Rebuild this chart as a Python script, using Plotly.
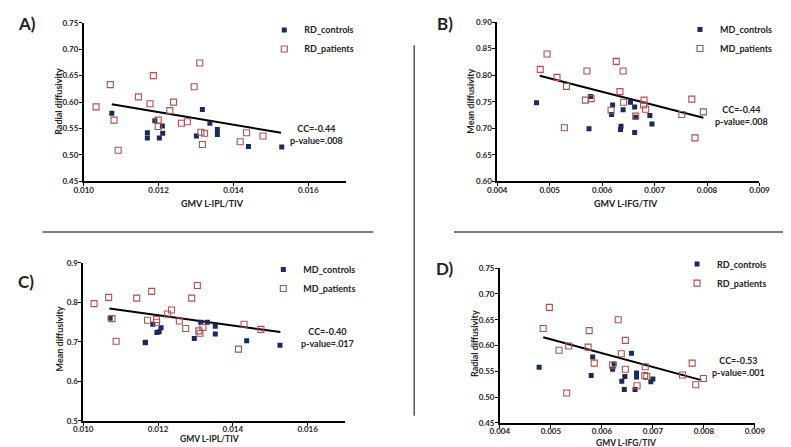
import plotly.graph_objects as go

W, H = 791, 447

# ---------------- data ----------------
# Panel A: RD vs GMV L-IPL/TIV
a_ctrl_x = [0.01075, 0.0117, 0.0117, 0.0119, 0.01202, 0.0121, 0.01211, 0.01301, 0.01317, 0.01337, 0.01357, 0.01357, 0.0144, 0.01529]
a_ctrl_y = [0.579, 0.542, 0.532, 0.565, 0.532, 0.555, 0.541, 0.536, 0.586, 0.560, 0.548, 0.539, 0.516, 0.515]
a_pat_x = [0.01033, 0.01071, 0.01081, 0.01092, 0.01146, 0.01177, 0.01186, 0.01199, 0.01199, 0.0123, 0.0124,
           0.01261, 0.01277, 0.01295, 0.0131, 0.01313, 0.01317, 0.01323, 0.01418, 0.01435, 0.01479]
a_pat_y = [0.591, 0.633, 0.566, 0.509, 0.610, 0.597, 0.650, 0.566, 0.554, 0.584, 0.600,
           0.560, 0.563, 0.629, 0.674, 0.543, 0.520, 0.541, 0.525, 0.542, 0.536]
a_fit_x = [0.01075, 0.01527]
a_fit_y = [0.596, 0.542]

# Panel B: MD vs GMV L-IFG/TIV
b_ctrl_x = [0.00475, 0.00575, 0.00578, 0.00618, 0.00620, 0.00636, 0.00635, 0.0064, 0.00654, 0.00662, 0.00662, 0.00664, 0.00691, 0.00695]
b_ctrl_y = [0.748, 0.699, 0.760, 0.726, 0.744, 0.704, 0.698, 0.735, 0.749, 0.740, 0.692, 0.721, 0.724, 0.708]
b_pat_x = [0.00482, 0.00495, 0.00514, 0.00532, 0.00528, 0.00568, 0.00571, 0.00579, 0.00617, 0.00627, 0.00634,
           0.0064, 0.00641, 0.00664, 0.0068, 0.00679, 0.00683, 0.00752, 0.00771, 0.00777, 0.00793]
b_pat_y = [0.811, 0.840, 0.796, 0.779, 0.701, 0.753, 0.808, 0.756, 0.734, 0.826, 0.769,
           0.808, 0.749, 0.723, 0.753, 0.744, 0.736, 0.726, 0.755, 0.682, 0.731]
b_fit_x = [0.00481, 0.00793]
b_fit_y = [0.799, 0.720]

# Panel C: MD vs GMV L-IPL/TIV
c_ctrl_x = [0.01072, 0.01166, 0.01166, 0.01186, 0.01197, 0.01203, 0.01208, 0.01297, 0.01314, 0.01332, 0.01353, 0.01353, 0.01437, 0.01526]
c_ctrl_y = [0.760, 0.698, 0.699, 0.745, 0.724, 0.726, 0.736, 0.709, 0.750, 0.750, 0.740, 0.720, 0.703, 0.692]
c_pat_x = [0.01029, 0.01068, 0.01077, 0.01088, 0.01143, 0.01172, 0.01183, 0.01196, 0.01196, 0.01225, 0.01236,
           0.01257, 0.01274, 0.0129, 0.01305, 0.01309, 0.01312, 0.0132, 0.01415, 0.0143, 0.01475]
c_pat_y = [0.797, 0.813, 0.759, 0.702, 0.811, 0.755, 0.828, 0.757, 0.750, 0.771, 0.781,
           0.753, 0.734, 0.811, 0.843, 0.728, 0.722, 0.737, 0.682, 0.745, 0.732]
c_fit_x = [0.0107, 0.01527]
c_fit_y = [0.785, 0.725]

# Panel D: RD vs GMV L-IFG/TIV
d_ctrl_x = [0.00477, 0.00579, 0.00582, 0.00621, 0.00624, 0.00639, 0.00644, 0.00645, 0.00658, 0.00668, 0.00668, 0.00665, 0.00696, 0.0070]
d_ctrl_y = [0.558, 0.542, 0.578, 0.554, 0.564, 0.531, 0.515, 0.540, 0.585, 0.547, 0.539, 0.515, 0.530, 0.535]
d_pat_x = [0.00485, 0.00497, 0.00516, 0.00535, 0.00531, 0.00573, 0.00575, 0.00585, 0.00621, 0.00632, 0.00638,
           0.00646, 0.00646, 0.00669, 0.00685, 0.00684, 0.00688, 0.00758, 0.00777, 0.00784, 0.00799]
d_pat_y = [0.633, 0.674, 0.591, 0.599, 0.508, 0.597, 0.629, 0.566, 0.562, 0.650, 0.584,
           0.610, 0.554, 0.522, 0.559, 0.542, 0.540, 0.543, 0.566, 0.524, 0.536]
d_fit_x = [0.00485, 0.00795]
d_fit_y = [0.616, 0.533]

ipl_ticks = [0.010, 0.012, 0.014, 0.016]
ipl_ticktext = ["0.010", "0.012", "0.014", "0.016"]
ifg_ticks = [0.004, 0.005, 0.006, 0.007, 0.008, 0.009]
ifg_ticktext = ["0.004", "0.005", "0.006", "0.007", "0.008", "0.009"]
rd_ticks = [0.45, 0.50, 0.55, 0.60, 0.65, 0.70, 0.75]
rd_ticktext = ["0.45", "0.50", "0.55", "0.60", "0.65", "0.70", "0.75"]
mdb_ticks = [0.60, 0.65, 0.70, 0.75, 0.80, 0.85, 0.90]
mdb_ticktext = ["0.60", "0.65", "0.70", "0.75", "0.80", "0.85", "0.90"]
mdc_ticks = [0.5, 0.6, 0.7, 0.8, 0.9]
mdc_ticktext = ["0.5", "0.6", "0.7", "0.8", "0.9"]

# ---------------- styling ----------------
FONT = "Lato"
NAVY = "#1b2a5c"
RED = "#b0514f"
TXT = "#222222"

def px_x(p):
    return p / W

def px_y(p):
    return 1 - p / H

fig = go.Figure()

panels = [
    ("A", "", a_ctrl_x, a_ctrl_y, a_pat_x, a_pat_y, a_fit_x, a_fit_y, "legend", "RD_controls", "RD_patients"),
    ("B", "2", b_ctrl_x, b_ctrl_y, b_pat_x, b_pat_y, b_fit_x, b_fit_y, "legend2", "MD_controls", "MD_patients"),
    ("C", "3", c_ctrl_x, c_ctrl_y, c_pat_x, c_pat_y, c_fit_x, c_fit_y, "legend3", "MD_controls", "MD_patients"),
    ("D", "4", d_ctrl_x, d_ctrl_y, d_pat_x, d_pat_y, d_fit_x, d_fit_y, "legend4", "RD_controls", "RD_patients"),
]

for name, s, cx, cy, px_, py_, fx, fy, leg, lc, lp in panels:
    xa = "x" + s
    ya = "y" + s
    fig.add_trace(go.Scatter(x=fx, y=fy, mode="lines", line=dict(color="black", width=2),
                             xaxis=xa, yaxis=ya, showlegend=False, hoverinfo="skip"))
    fig.add_trace(go.Scatter(x=cx, y=cy, mode="markers", name=lc, legend=leg,
                             marker=dict(symbol="square", size=5, color=NAVY),
                             xaxis=xa, yaxis=ya))
    fig.add_trace(go.Scatter(x=px_, y=py_, mode="markers", name=lp, legend=leg,
                             marker=dict(symbol="square-open", size=6, color=RED,
                                         line=dict(width=1.1, color=RED)),
                             xaxis=xa, yaxis=ya))

axis_common = dict(showline=True, linecolor="black", linewidth=1.6, ticks="outside",
                   ticklen=3, tickwidth=1.3, tickcolor="black", showgrid=False, zeroline=False,
                   tickfont=dict(family=FONT, size=8, color=TXT, weight="bold"))
xcommon = dict(ticklabelstandoff=-3, **axis_common)
ycommon = dict(ticklabelstandoff=-1, **axis_common)

domA_x = [px_x(67.5), px_x(336.7)]
domA_y = [px_y(172.3), px_y(10)]
domB_x = [px_x(492.3), px_x(761.7)]
domB_y = [px_y(172.3), px_y(9.3)]
domC_x = [px_x(67), px_x(336)]
domC_y = [px_y(417.3), px_y(255.7)]
domD_x = [px_x(495), px_x(757)]
domD_y = [px_y(419.3), px_y(261)]

fig.update_layout(
    xaxis=dict(domain=domA_x, range=[0.010, 0.017], tickvals=ipl_ticks, ticktext=ipl_ticktext, anchor="y", **xcommon),
    yaxis=dict(domain=domA_y, range=[0.45, 0.75], tickvals=rd_ticks, ticktext=rd_ticktext, anchor="x", **ycommon),
    xaxis2=dict(domain=domB_x, range=[0.004, 0.009], tickvals=ifg_ticks, ticktext=ifg_ticktext, anchor="y2", **xcommon),
    yaxis2=dict(domain=domB_y, range=[0.60, 0.90], tickvals=mdb_ticks, ticktext=mdb_ticktext, anchor="x2", **ycommon),
    xaxis3=dict(domain=domC_x, range=[0.010, 0.017], tickvals=ipl_ticks, ticktext=ipl_ticktext, anchor="y3", **xcommon),
    yaxis3=dict(domain=domC_y, range=[0.5, 0.9], tickvals=mdc_ticks, ticktext=mdc_ticktext, anchor="x3", **ycommon),
    xaxis4=dict(domain=domD_x, range=[0.004, 0.009], tickvals=ifg_ticks, ticktext=ifg_ticktext, anchor="y4", **xcommon),
    yaxis4=dict(domain=domD_y, range=[0.45, 0.75], tickvals=rd_ticks, ticktext=rd_ticktext, anchor="x4", **ycommon),
)

leg_common = dict(bgcolor="rgba(0,0,0,0)", font=dict(family=FONT, size=9, color=TXT, weight="bold"),
                  itemwidth=30, xanchor="left", yanchor="top", tracegroupgap=0)
fig.update_layout(
    legend=dict(x=px_x(253), y=px_y(2.5), **leg_common),
    legend2=dict(x=px_x(680), y=px_y(2), **leg_common),
    legend3=dict(x=px_x(252), y=px_y(247.5), **leg_common),
    legend4=dict(x=px_x(677), y=px_y(242), **leg_common),
)

ann = []
def text(x, y, s, size=9, angle=0):
    ann.append(dict(x=px_x(x), y=px_y(y), xref="paper", yref="paper", text="<b>" + s + "</b>", showarrow=False,
                    xanchor="center", yanchor="middle", textangle=angle,
                    font=dict(family=FONT, size=size, color=TXT)))

# panel letters
text(9, 11, "A)", 17)
text(439, 11, "B)", 17)
text(8, 275, "C)", 17)
text(439, 261, "D)", 17)
# stats
text(307, 124, "CC=-0.44<br>p-value=.008", 9)
text(743, 105, "CC=-0.44<br>p-value=.008", 9)
text(318, 332, "CC=-0.40<br>p-value=.017", 9)
text(740, 362, "CC=-0.53<br>p-value=.001", 9)
# axis titles
text(200, 195, "GMV L-IPL/TIV", 9)
text(625, 195, "GMV L-IFG/TIV", 9)
text(197, 435.5, "GMV L-IPL/TIV", 8.5)
text(625, 439.5, "GMV L-IFG/TIV", 8.5)
text(42, 90, "Radial diffusivity", 9, -90)
text(465, 90, "Mean diffusivity", 9, -90)
text(43, 333, "Mean diffusivity", 9, -90)
text(469, 338, "Radial diffusivity", 9, -90)

shapes = [
    dict(type="line", xref="paper", yref="paper", x0=px_x(407), x1=px_x(407), y0=px_y(33), y1=px_y(412),
         line=dict(color="#555555", width=1.5)),
    dict(type="line", xref="paper", yref="paper", x0=px_x(25), x1=px_x(365), y0=px_y(224), y1=px_y(224),
         line=dict(color="#555555", width=1.5)),
    dict(type="line", xref="paper", yref="paper", x0=px_x(448), x1=px_x(788), y0=px_y(224), y1=px_y(224),
         line=dict(color="#555555", width=1.5)),
]

fig.update_layout(
    width=W, height=H, margin=dict(l=0, r=0, t=0, b=0),
    paper_bgcolor="white", plot_bgcolor="white",
    annotations=ann, shapes=shapes, showlegend=True,
    font=dict(family=FONT, color=TXT),
)

fig.write_html("out.html")
